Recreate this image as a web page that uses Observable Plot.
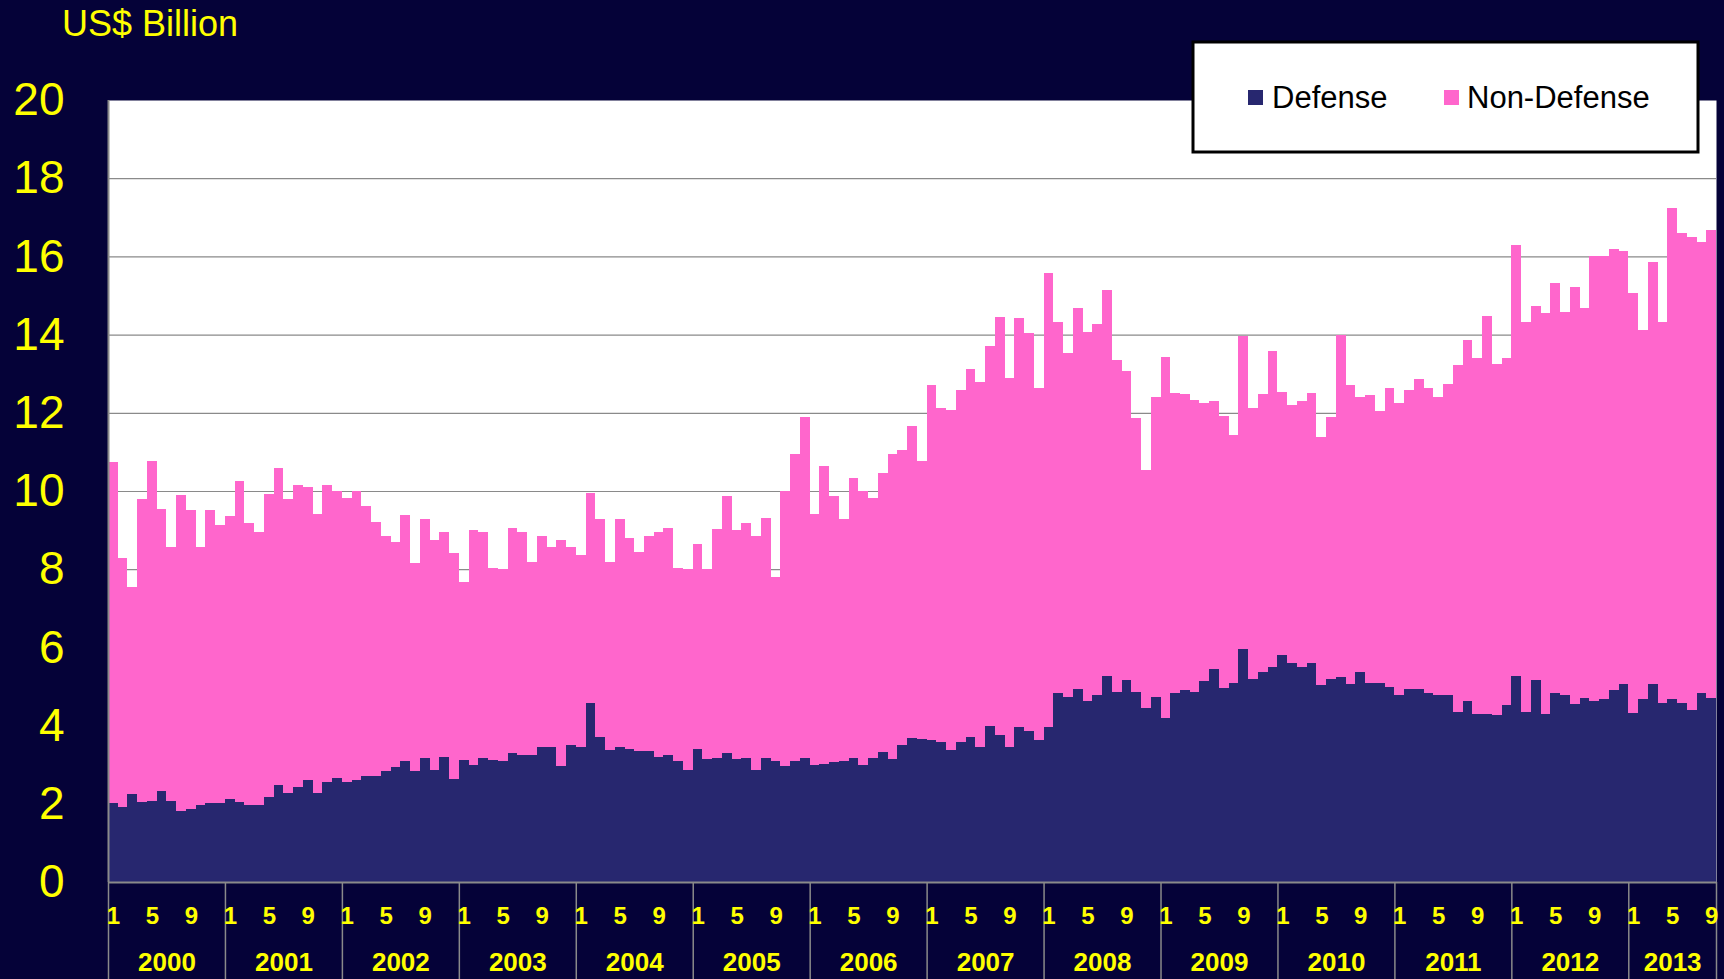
<!DOCTYPE html>
<html>
<head>
<meta charset="utf-8">
<script src="https://cdn.jsdelivr.net/npm/d3@7"></script>
<script src="https://cdn.jsdelivr.net/npm/@observablehq/plot@0.6"></script>
<style>
  html, body { margin: 0; padding: 0; background: #050238; }
  #chart { position: relative; width: 1724px; height: 979px; }
</style>
</head>
<body>
<div id="chart"></div>
<script>
// ---- data (US$ billion, monthly, Jan 2000 – Sep 2013) ----
const years = [2000, 2001, 2002, 2003, 2004, 2005, 2006, 2007, 2008, 2009, 2010, 2011, 2012, 2013];
const monthsPerYear = [12, 12, 12, 12, 12, 12, 12, 12, 12, 12, 12, 12, 12, 9];
const monthTickLabels = [1, 5, 9];
const yTicks = [0, 2, 4, 6, 8, 10, 12, 14, 16, 18, 20];
const seriesNames = ["Defense", "Non-Defense"];

const defense = [
  2.03,1.93,2.25,2.04,2.07,2.32,2.07,1.81,1.87,1.97,2.01,2.01,
  2.12,2.04,1.97,1.97,2.17,2.49,2.28,2.42,2.62,2.28,2.55,2.65,
  2.57,2.62,2.72,2.70,2.83,2.93,3.10,2.84,3.16,2.87,3.20,2.64,
  3.13,3.00,3.16,3.13,3.10,3.30,3.26,3.26,3.46,3.46,2.97,3.51,
  3.46,4.57,3.71,3.38,3.46,3.41,3.35,3.36,3.20,3.26,3.10,2.87,
  3.41,3.14,3.16,3.30,3.14,3.16,2.87,3.16,3.10,2.97,3.10,3.16,
  3.00,3.03,3.06,3.10,3.16,3.00,3.16,3.33,3.14,3.51,3.68,3.65,
  3.64,3.57,3.38,3.57,3.71,3.45,4.00,3.75,3.46,3.97,3.86,3.64,
  3.96,4.83,4.74,4.93,4.64,4.77,5.28,4.87,5.16,4.87,4.46,4.72,
  4.20,4.83,4.90,4.87,5.14,5.45,4.97,5.10,5.96,5.20,5.38,5.51,
  5.81,5.61,5.51,5.61,5.04,5.20,5.25,5.07,5.38,5.10,5.10,5.00,
  4.77,4.93,4.93,4.83,4.77,4.77,4.36,4.62,4.29,4.29,4.26,4.52,
  5.28,4.36,5.17,4.30,4.83,4.77,4.54,4.70,4.62,4.67,4.90,5.07,
  4.32,4.67,5.07,4.59,4.67,4.59,4.39,4.83,4.70
];

const nonDefense = [
  8.71,6.36,5.29,7.76,8.71,7.23,6.50,8.10,7.64,6.60,7.50,7.13,
  7.23,8.21,7.20,6.97,7.76,8.09,7.52,7.74,7.47,7.14,7.61,7.36,
  7.26,7.38,6.90,6.50,6.01,5.77,6.28,5.32,6.13,5.88,5.76,5.78,
  4.54,6.00,5.78,4.91,4.91,5.76,5.68,4.93,5.40,5.11,5.77,5.06,
  4.90,5.39,5.57,4.81,5.82,5.40,5.08,5.50,5.76,5.80,4.94,5.14,
  5.24,4.87,5.88,6.58,5.86,6.01,5.97,6.14,4.70,7.04,7.84,8.74,
  6.42,7.61,6.80,6.18,7.17,7.00,6.67,7.13,7.80,7.55,7.99,7.12,
  9.07,8.56,8.69,9.01,9.42,9.33,9.71,10.71,9.42,10.45,10.17,9.00,
  11.62,9.49,8.80,9.75,9.43,9.49,9.85,8.49,7.90,7.00,6.08,7.69,
  9.23,7.68,7.58,7.46,7.11,6.84,6.96,6.33,8.01,6.93,7.10,8.06,
  6.71,6.59,6.79,6.90,6.35,6.68,8.75,7.65,7.03,7.36,6.94,7.64,
  7.48,7.65,7.93,7.81,7.64,7.97,8.86,9.25,9.10,10.19,9.00,8.87,
  11.02,9.96,9.55,10.25,10.50,9.81,10.69,9.97,11.38,11.33,11.29,11.07,
  10.75,9.45,10.79,9.73,12.58,12.00,12.10,11.53,11.97
];

// ---- styling ----
const BG = "#050238";
const NAVY = "#27276f";
const PINK = "#ff66cc";
const YELLOW = "#ffff00";
const GRID = "#8a8a8a";
const FONT = "'Liberation Sans', Arial, Helvetica, sans-serif";

// ---- derived tables for the library ----
const rows = defense.map((d, i) => ({
  i,
  month: (i % 12) + 1,
  defense: d,
  nonDefense: nonDefense[i]
}));

let start = 0;
const yearRows = years.map((y, k) => {
  const r = { year: String(y), start, n: monthsPerYear[k] };
  start += monthsPerYear[k];
  return r;
});
const total = start;
const yearBounds = yearRows.map(r => r.start).concat([total]);
const monthRows = rows.filter(r => monthTickLabels.includes(r.month));

const chart = Plot.plot({
  width: 1724,
  height: 979,
  marginLeft: 108,
  marginRight: 8,
  marginTop: 100,
  marginBottom: 97,
  style: { background: BG, fontFamily: FONT, overflow: "visible" },
  x: { type: "linear", domain: [0, total], axis: null },
  y: { domain: [0, 20], axis: null },
  marks: [
    Plot.frame({ fill: "white", stroke: null }),
    Plot.gridY(yTicks.filter(t => t > 0 && t < 20), { stroke: GRID, strokeOpacity: 1, strokeWidth: 1.2 }),
    Plot.rect(rows, {
      x1: d => d.i, x2: d => d.i + 1,
      y1: () => 0, y2: d => d.defense,
      fill: NAVY, shapeRendering: "crispEdges"
    }),
    Plot.rect(rows, {
      x1: d => d.i, x2: d => d.i + 1,
      y1: d => d.defense, y2: d => d.defense + d.nonDefense,
      fill: PINK, shapeRendering: "crispEdges"
    }),
    Plot.ruleX(yearBounds, { x: d => d, y1: () => 0, y2: () => -2.5, stroke: GRID, strokeWidth: 1.5 }),
    Plot.ruleY([0], { stroke: GRID, strokeWidth: 2 }),
    Plot.ruleX([0], { y1: () => 0, y2: () => 20, stroke: GRID, strokeWidth: 2 }),
    Plot.axisY(yTicks, {
      tickSize: 0, tickPadding: 44, fontSize: 46, fill: YELLOW, label: null
    }),
    Plot.text(monthRows, {
      x: d => d.i + 0.5, text: d => String(d.month),
      frameAnchor: "bottom", lineAnchor: "top", dy: 24,
      fontSize: 24, fontWeight: "bold", fill: YELLOW
    }),
    Plot.text(yearRows, {
      x: d => d.start + d.n / 2, text: "year",
      frameAnchor: "bottom", lineAnchor: "top", dy: 70,
      fontSize: 26, fontWeight: "bold", fill: YELLOW
    })
  ]
});

// title and legend inside the same SVG
const svg = d3.select(chart);
svg.append("text")
  .attr("x", 62).attr("y", 36)
  .attr("text-anchor", "start")
  .attr("fill", YELLOW)
  .attr("font-family", FONT)
  .attr("font-size", 36)
  .text("US$ Billion");

const lg = svg.append("g").attr("font-family", FONT).attr("text-anchor", "start");
lg.append("rect")
  .attr("x", 1193).attr("y", 42).attr("width", 505).attr("height", 110)
  .attr("fill", "white").attr("stroke", "black").attr("stroke-width", 3);
const legendItems = [
  { name: seriesNames[0], color: NAVY, sx: 1248, tx: 1272 },
  { name: seriesNames[1], color: PINK, sx: 1444, tx: 1467 }
];
legendItems.forEach(it => {
  lg.append("rect").attr("x", it.sx).attr("y", 90).attr("width", 15).attr("height", 15).attr("fill", it.color);
  lg.append("text").attr("x", it.tx).attr("y", 108).attr("text-anchor", "start")
    .attr("font-size", 31).attr("fill", "black").text(it.name);
});

document.getElementById("chart").appendChild(chart);
</script>
</body>
</html>
